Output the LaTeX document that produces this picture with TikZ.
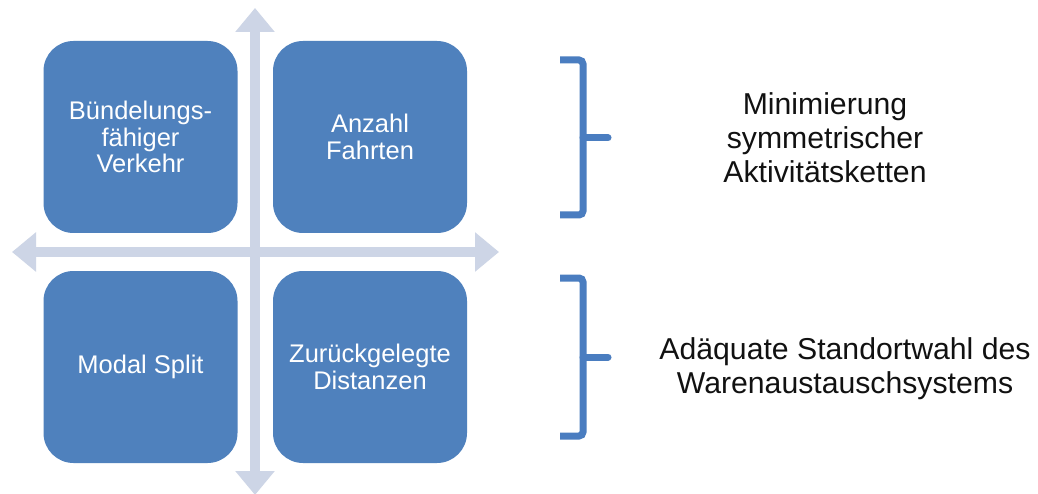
\documentclass[tikz,border=0pt]{standalone}
\usepackage{fontspec}
\setmainfont{Liberation Sans}
\usetikzlibrary{arrows.meta}
\definecolor{boxblue}{HTML}{4F81BD}
\definecolor{bracketblue}{HTML}{4A7DC0}
\definecolor{axisgray}{HTML}{CDD5E6}
\definecolor{txt}{HTML}{111111}
\tikzset{
  quad/.style={draw=none, fill=boxblue, rounded corners=30pt, minimum width=194pt, minimum height=192pt,
    inner sep=0pt, text=white, align=center, font=\fontsize{25.5}{26.5}\selectfont},
  axis/.style={draw=axisgray, line width=10.5pt,
    {Triangle[width=38pt,length=24pt]}-{Triangle[width=38pt,length=24pt]}},
  brace/.style={draw=bracketblue, line width=7pt, rounded corners=4pt},
  bracetick/.style={draw=bracketblue, line width=7pt, line cap=round},
  label/.style={align=center, text=txt, inner sep=0pt, font=\fontsize{30.2}{34}\selectfont}
}
\begin{document}
\begin{tikzpicture}[x=1pt, y=-1pt]
\useasboundingbox (0,0) rectangle (1038,494);
\fill[white] (0,0) rectangle (1038,494);
% axes
\coordinate (axL) at (12,252);
\coordinate (axR) at (499,252);
\coordinate (axT) at (255,8);
\coordinate (axB) at (255,495);
\draw[axis] (axL) -- (axR);
\draw[axis] (axT) -- (axB);
% quadrants
\node[quad] (q1) at (140.5,137) {Bündelungs-\\fähiger\\Verkehr};
\node[quad] (q2) at (370,137) {Anzahl\\Fahrten};
\node[quad] (q3) at (140.5,367) {Modal Split};
\node[quad] (q4) at (370,367) {Zurückgelegte\\Distanzen};
% brackets
\coordinate (b1t) at (560,60);
\coordinate (b1b) at (560,215);
\coordinate (b1m) at (583,138);
\coordinate (b1e) at (608,138);
\draw[brace] (b1t) -- (583,60) -- (583,215) -- (b1b);
\draw[bracetick] (b1m) -- (b1e);
\coordinate (b2t) at (560,278);
\coordinate (b2b) at (560,436);
\coordinate (b2m) at (583,357);
\coordinate (b2e) at (608,357);
\draw[brace] (b2t) -- (583,278) -- (583,436) -- (b2b);
\draw[bracetick] (b2m) -- (b2e);
% labels
\node[label] (l1) at (825,138) {Minimierung\\symmetrischer\\Aktivitätsketten};
\node[label] (l2) at (845,369) {Adäquate Standortwahl des\\Warenaustauschsystems};
\end{tikzpicture}
\end{document}
